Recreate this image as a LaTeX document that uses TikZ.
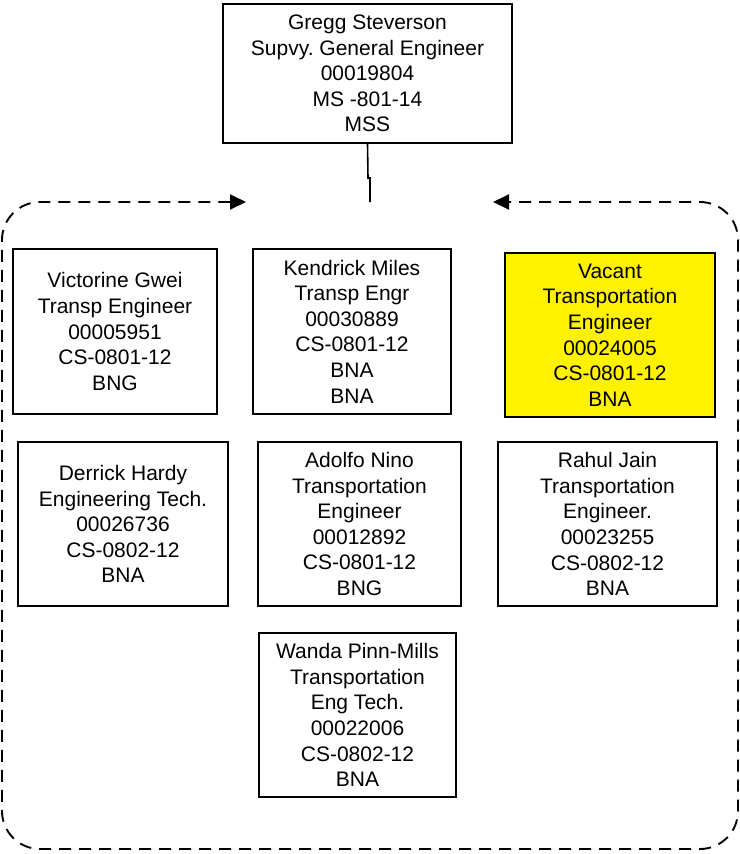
\documentclass[tikz,border=0pt]{standalone}
\usepackage{fontspec}
\setmainfont{Liberation Sans}
\usetikzlibrary{arrows.meta}
\frenchspacing
\tikzset{
  posbox/.style={draw=black, line width=1.6pt, fill=white, rectangle, inner sep=0pt, align=center,
    font=\fontsize{21}{25.6}\selectfont},
  vacantbox/.style={posbox, fill=yellow},
  groupline/.style={line width=1.9pt, dash pattern=on 12pt off 8pt, rounded corners=38pt,
    {Triangle[length=16pt,width=15pt]}-{Triangle[length=16pt,width=15pt]}},
  linkline/.style={line width=1.6pt}
}
\begin{document}
\begin{tikzpicture}[x=1pt,y=-1pt]
\useasboundingbox (0,0) rectangle (739,854);
% top supervisor
\node[posbox, minimum width=289pt, minimum height=139pt] (top) at (367.5,73.5)
  {Gregg Steverson\\Supvy.\ General Engineer\\00019804\\MS -801-14\\MSS};
% group boundary
\coordinate (gl) at (246,202);
\coordinate (gr) at (493,202);
\draw[groupline] (gl) -- (2,202) -- (2,849) -- (738,849) -- (738,202) -- (gr);
% connector
\coordinate (jog) at (368,178);
\coordinate (gtop) at (370,202);
\draw[linkline] (top.south) -- (jog) -- ++(2,0) -- (gtop);
% row 1
\node[posbox, minimum width=204pt, minimum height=165pt] (victorine) at (115,331.5)
  {Victorine Gwei\\Transp Engineer\\00005951\\CS-0801-12\\BNG};
\node[posbox, minimum width=198pt, minimum height=165pt] (kendrick) at (352,331.5)
  {Kendrick Miles\\Transp Engr\\00030889\\CS-0801-12\\BNA\\BNA};
\node[vacantbox, minimum width=210pt, minimum height=164pt] (vacant) at (610,335)
  {Vacant\\Transportation\\Engineer\\00024005\\CS-0801-12\\BNA};
% row 2
\node[posbox, minimum width=210pt, minimum height=164pt] (derrick) at (123,524)
  {Derrick Hardy\\Engineering Tech.\\00026736\\CS-0802-12\\BNA};
\node[posbox, minimum width=203pt, minimum height=164pt] (adolfo) at (359.5,524)
  {Adolfo Nino\\Transportation\\Engineer\\00012892\\CS-0801-12\\BNG};
\node[posbox, minimum width=219pt, minimum height=164pt] (rahul) at (607.5,524)
  {Rahul Jain\\Transportation\\Engineer.\\00023255\\CS-0802-12\\BNA};
% row 3
\node[posbox, minimum width=197pt, minimum height=164pt] (wanda) at (357.5,715)
  {Wanda Pinn-Mills\\Transportation\\Eng Tech.\\00022006\\CS-0802-12\\BNA};
\end{tikzpicture}
\end{document}
